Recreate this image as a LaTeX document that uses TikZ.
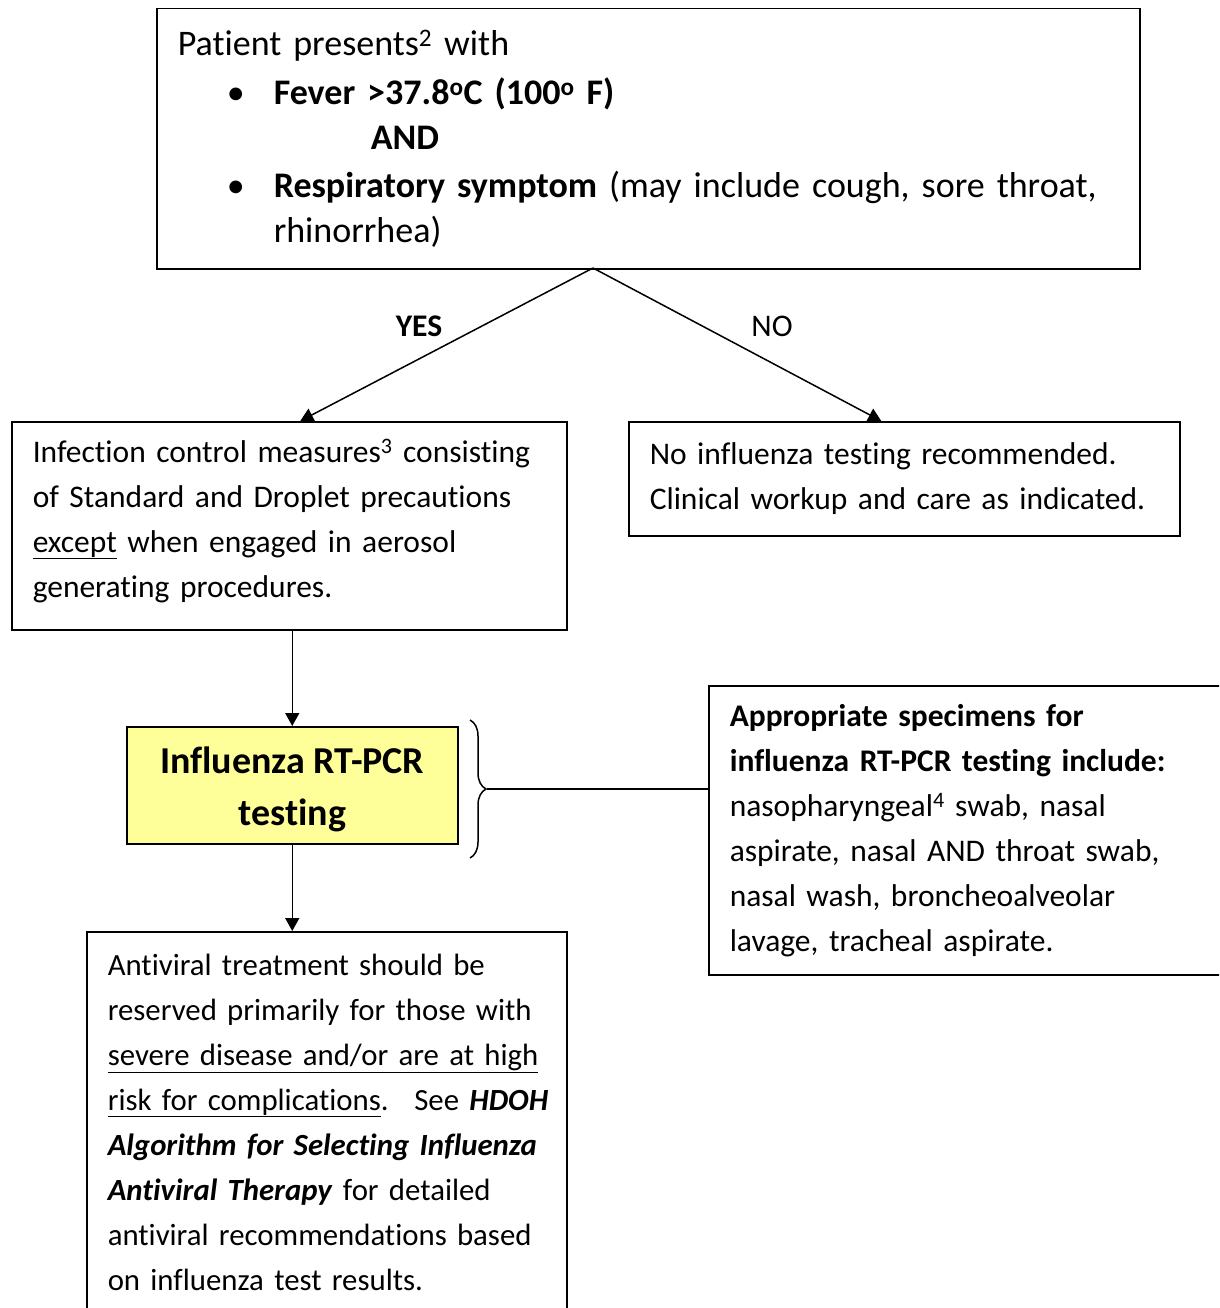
\documentclass[tikz,border=0pt]{standalone}
\usepackage{fontspec}
\setmainfont{Carlito}[Ligatures=NoCommon]
\usetikzlibrary{arrows.meta,decorations.pathreplacing}
\definecolor{pcryellow}{RGB}{255,255,153}

\tikzset{
  box/.style={draw, line width=1.5pt, align=left, inner xsep=21pt, inner ysep=0pt, anchor=north west},
  flow/.style={line width=1.5pt, -{Triangle[width=14pt,length=13pt]}},
}

\begin{document}
\begin{tikzpicture}[x=1pt,y=-1pt,font=\fontsize{31.5}{45}\selectfont]
\useasboundingbox (0,0) rectangle (1219,1308);
\clip (0,0) rectangle (1219,1308);

% Presenting criteria (top)
\node[box, text width=941pt, minimum height=260pt, font=\fontsize{36}{45}\selectfont] (present) at (156,8)
  {Patient presents\smash{\textsuperscript{2}} with\\[4pt]
   \hspace*{49pt}\makebox[47pt][l]{\textbullet}\textbf{Fever >37.8\textsuperscript{o}C (100\textsuperscript{o} F)}\\
   \hspace*{193pt}\textbf{AND}\\[3pt]
   \hspace*{49pt}\makebox[47pt][l]{\textbullet}\textbf{Respiratory symptom} (may include cough, sore throat,\\
   \hspace*{96pt}rhinorrhea)};
\coordinate (fork) at (593,268);

% YES branch (left)
\node[box, text width=513pt, minimum height=208pt] (ictrl) at (11,421)
  {Infection control measures\smash{\textsuperscript{3}} consisting\\
   of Standard and Droplet precautions\\
   \underline{except} when engaged in aerosol\\
   generating procedures.\rule[-14pt]{0pt}{14pt}};
\draw[flow] (fork) -- ([xshift=11pt]ictrl.north);
\node[font=\fontsize{31.5}{45}\selectfont\bfseries] (yes) at (419,326) {YES};

% NO branch (right)
\node[box, text width=509pt, minimum height=114pt] (notest) at (628,421)
  {No influenza testing recommended.\\
   Clinical workup and care as indicated.};
\draw[flow] (fork) -- ([xshift=-23pt]notest.north);
\node (no) at (772,326) {NO};

% RT-PCR testing
\node[draw, line width=1.5pt, fill=pcryellow, align=center, anchor=north west,
      minimum width=331pt, minimum height=117pt,
      font=\fontsize{38}{52}\selectfont\bfseries] (pcr) at (126,726)
  {\rule{0pt}{35pt}Influenza RT-PCR\\ testing};
\draw[flow] (pcr.north |- ictrl.south) -- (pcr.north);

% Specimens (right, cut by the margin)
\node[box, text width=490pt, minimum height=289pt] (spec) at (708,685)
  {\textbf{Appropriate specimens for}\\
   \textbf{influenza RT-PCR testing include:}\\
   nasopharyngeal\textsuperscript{4} swab, nasal\\
   aspirate, nasal AND throat swab,\\
   nasal wash, broncheoalveolar\\
   lavage, tracheal aspirate.};
\coordinate (bracetop) at (470,720);
\coordinate (bracebot) at (470,858);
\coordinate (bracetip) at (487,789);
\draw[line width=1.5pt, decorate, decoration={brace, amplitude=16pt}] (bracetop) -- (bracebot);
\draw[line width=1.5pt] (bracetip) -- (bracetip -| spec.west);

% Antiviral treatment (bottom, cut by the margin)
\node[box, text width=438pt, minimum height=381pt, font=\fontsize{30.8}{45}\selectfont] (antiv) at (86,931)
  {Antiviral treatment should be\\
   \mbox{reserved primarily for those with}\\
   \mbox{\underline{severe disease and/or are at high}}\\
   \mbox{\underline{risk for complications}. \ See \textbf{\textit{HDOH}}}\\
   \mbox{\textbf{\textit{Algorithm for Selecting Influenza}}}\\
   \mbox{\textbf{\textit{Antiviral Therapy}} for detailed}\\
   \mbox{antiviral recommendations based}\\
   on influenza test results.};
\draw[flow] (pcr.south) -- (pcr.south |- antiv.north);
\end{tikzpicture}
\end{document}
